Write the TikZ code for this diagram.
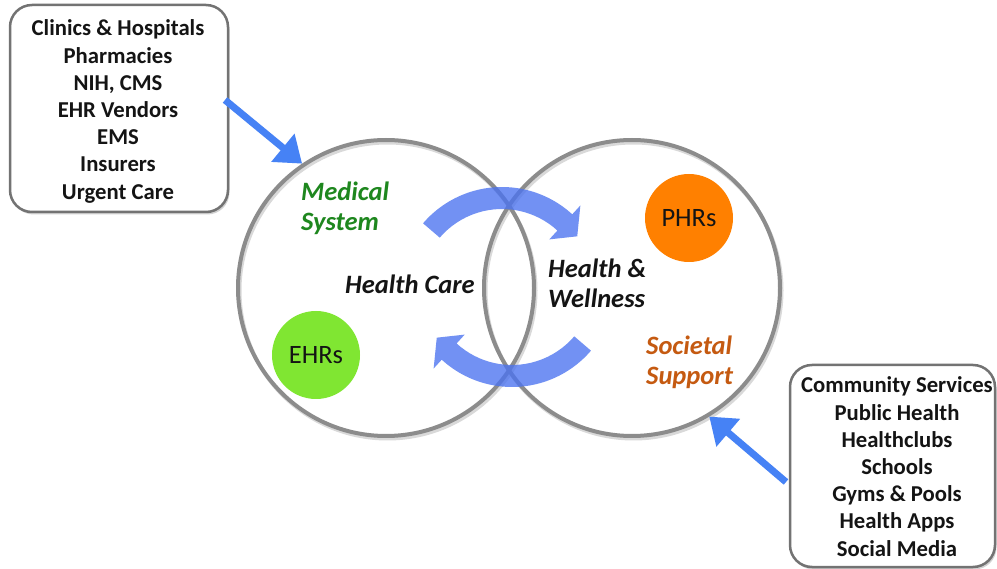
\documentclass[tikz,border=0pt]{standalone}
\usepackage{fontspec}
\setmainfont{Carlito}
\usetikzlibrary{arrows.meta,calc,shadows}
\definecolor{ringgray}{RGB}{140,140,140}
\definecolor{boxgray}{RGB}{115,115,115}
\definecolor{arrowblue}{RGB}{70,130,245}
\definecolor{flowblue}{RGB}{75,115,240}
\definecolor{medgreen}{RGB}{30,135,30}
\definecolor{socorange}{RGB}{197,90,17}
\definecolor{phrorange}{RGB}{255,128,0}
\definecolor{ehrgreen}{RGB}{128,230,50}
\definecolor{ink}{RGB}{20,20,20}
\newcommand{\stk}[2][l]{\begin{tabular}[t]{@{}#1@{}}#2\end{tabular}}
\tikzset{
  ring/.style={circle, draw=ringgray, line width=4pt, minimum size=296pt, inner sep=0pt},
  ringshadow/.style={draw=gray!30, line width=4pt},
  listbox/.style={rectangle, rounded corners=22pt, draw=boxgray, line width=2.5pt, fill=white,
    drop shadow={shadow xshift=1.5pt, shadow yshift=-2.5pt, opacity=0.35, fill=gray}},
  listtext/.style={inner sep=0pt, text=ink, font=\fontsize{22.7}{27.2}\selectfont\bfseries},
  dot/.style={circle, minimum size=88pt, inner sep=0pt, text=ink, font=\fontsize{26.5}{30}\selectfont},
  label/.style={inner sep=0pt, font=\fontsize{26.5}{30}\selectfont\bfseries\itshape},
  bluearrow/.style={draw=arrowblue, line width=7pt, -{Triangle[width=35pt,length=25pt]}},
  flow/.style={fill=flowblue, opacity=0.78}
}
\begin{document}
\begin{tikzpicture}[x=1pt, y=-1pt]
\useasboundingbox (0,0) rectangle (997,569);
\fill[white] (0,0) rectangle (997,569);

% circle shadows
\draw[ringshadow] (387.5,290.5) circle[radius=148];
\draw[ringshadow] (633.5,290.5) circle[radius=148];
% main circles
\node[ring] (lc) at (386,288) {};
\node[ring] (rc) at (632,288) {};

% small circles
\node[dot, fill=phrorange] (phr) at (689,218) {PHRs};
\node[dot, fill=ehrgreen] (ehr) at (316,355) {EHRs};

% curved flow arrows
\coordinate (T) at (502,291);
\coordinate (B) at (512,283);
\fill[flow] ($(T)+(-139.4:104)$) arc[start angle=-139.4, end angle=-47.5, radius=104]
  -- ($(T)+(-47.5:116)$) -- ($(T)+(-36:93)$) -- ($(T)+(-47.5:70)$) -- ($(T)+(-47.5:82)$)
  arc[start angle=-47.5, end angle=-139.4, radius=82] -- cycle;
\fill[flow] ($(B)+(40.6:104)$) arc[start angle=40.6, end angle=132.5, radius=104]
  -- ($(B)+(132.5:116)$) -- ($(B)+(144:93)$) -- ($(B)+(132.5:70)$) -- ($(B)+(132.5:82)$)
  arc[start angle=132.5, end angle=40.6, radius=82] -- cycle;

% labels
\node[label, text=medgreen, anchor=base west] (med) at (301,201) {\stk{Medical\\System}};
\node[label, text=ink, anchor=base west] (hc) at (345,294) {Health Care};
\node[label, text=ink, anchor=base west] (hw) at (548,278) {\stk{Health \&\\Wellness}};
\node[label, text=socorange, anchor=base west] (soc) at (646,355) {\stk{Societal\\Support}};

% boxes
\node[listbox, minimum width=218pt, minimum height=207pt] (lbox) at (119,108.5) {};
\node[listtext, anchor=base] (ltext) at (118,36) {\stk[c]{Clinics \& Hospitals\\Pharmacies\\NIH, CMS\\EHR Vendors\\EMS\\Insurers\\Urgent Care}};
\node[listbox, minimum width=205pt, minimum height=202pt] (rbox) at (892.5,466) {};
\node[listtext, anchor=base] (rtext) at (897,393) {\stk[c]{Community Services\\Public Health\\Healthclubs\\Schools\\Gyms \& Pools\\Health Apps\\Social Media}};

% straight arrows
\coordinate (ls) at (225,100);
\coordinate (rs) at (786,482);
\draw[bluearrow] (ls) -- (lc.124);
\draw[bluearrow] (rs) -- (rc.-59);
\end{tikzpicture}
\end{document}
